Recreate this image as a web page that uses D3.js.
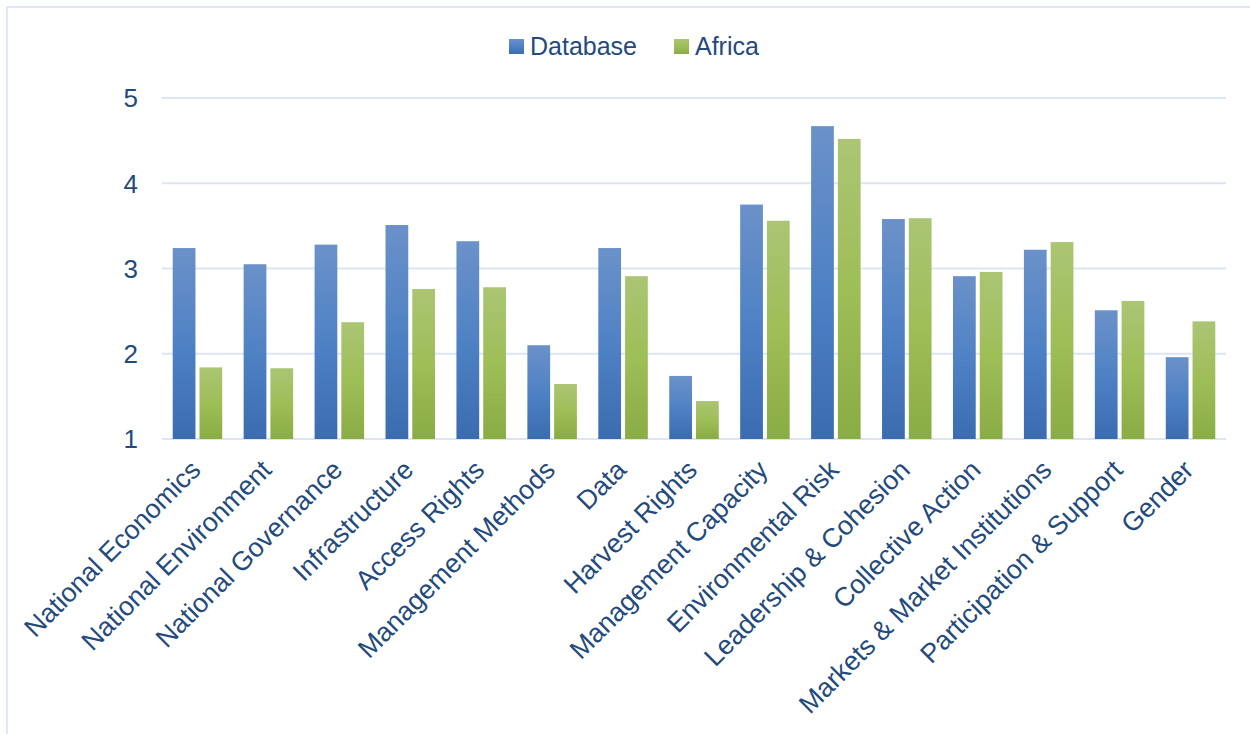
<!DOCTYPE html>
<html>
<head>
<meta charset="utf-8">
<script src="https://cdn.jsdelivr.net/npm/d3@7"></script>
<style>
  html, body { margin: 0; padding: 0; background: #fff; }
  svg { display: block; font-family: "Liberation Sans", Arial, sans-serif; }
</style>
</head>
<body>
<svg id="chart" width="1250" height="734"></svg>
<script>
const categories = [
  "National Economics", "National Environment", "National Governance",
  "Infrastructure", "Access Rights", "Management Methods", "Data",
  "Harvest Rights", "Management Capacity", "Environmental Risk",
  "Leadership & Cohesion", "Collective Action", "Markets & Market Institutions",
  "Participation & Support", "Gender"
];
const seriesNames = ["Database", "Africa"];
const databaseValues = [3.24, 3.05, 3.28, 3.51, 3.32, 2.10, 3.24, 1.74, 3.75, 4.67, 3.58, 2.91, 3.22, 2.51, 1.96];
const africaValues   = [1.84, 1.83, 2.37, 2.76, 2.78, 1.645, 2.91, 1.445, 3.56, 4.52, 3.59, 2.96, 3.31, 2.62, 2.38];
const yTicks = [1, 2, 3, 4, 5];

const svg = d3.select("#chart");
const textColor = "#244a7c";
const gridColor = "#dbe5f3";

// vertical gradients for the two series
const defs = svg.append("defs");
const gradStops = {
  Database: ["#6b91c9", "#4f82c4", "#3a6caf"],
  Africa:   ["#abc574", "#9ebe57", "#8aac45"]
};
seriesNames.forEach(name => {
  const g = defs.append("linearGradient")
    .attr("id", "grad-" + name).attr("x1", 0).attr("y1", 0).attr("x2", 0).attr("y2", 1);
  g.append("stop").attr("offset", "0%").attr("stop-color", gradStops[name][0]);
  g.append("stop").attr("offset", "50%").attr("stop-color", gradStops[name][1]);
  g.append("stop").attr("offset", "100%").attr("stop-color", gradStops[name][2]);
});

// outer chart border (top and left edges)
svg.append("line").attr("x1", 7).attr("x2", 1250).attr("y1", 7).attr("y2", 7)
  .attr("stroke", "#d5e1f1").attr("stroke-width", 1.5);
svg.append("line").attr("x1", 7).attr("x2", 7).attr("y1", 7).attr("y2", 734)
  .attr("stroke", "#d5e1f1").attr("stroke-width", 1.5);

const plot = { left: 162, right: 1226, top: 98, bottom: 439 };

const x0 = d3.scaleBand().domain(categories).range([plot.left, plot.right]).paddingInner(0).paddingOuter(0);
const x1 = d3.scaleBand().domain(seriesNames).range([0, x0.bandwidth()]).paddingInner(0.15).paddingOuter(0.4);
const y = d3.scaleLinear().domain([1, 5]).range([plot.bottom, plot.top]);

// gridlines
svg.append("g").selectAll("line").data(yTicks).join("line")
  .attr("x1", plot.left).attr("x2", plot.right)
  .attr("y1", d => y(d)).attr("y2", d => y(d))
  .attr("stroke", gridColor).attr("stroke-width", 2);

// y tick labels
svg.append("g").selectAll("text").data(yTicks).join("text")
  .attr("x", 138).attr("y", d => y(d)).attr("dy", "0.36em")
  .attr("text-anchor", "end").attr("fill", textColor)
  .attr("font-size", 26).text(d => d);

// bars
const seriesData = { Database: databaseValues, Africa: africaValues };
seriesNames.forEach(name => {
  svg.append("g").selectAll("rect").data(seriesData[name]).join("rect")
    .attr("x", (d, i) => x0(categories[i]) + x1(name))
    .attr("width", x1.bandwidth())
    .attr("y", d => y(d))
    .attr("height", d => y(1) - y(d))
    .attr("fill", "url(#grad-" + name + ")");
});

// category labels, rotated
svg.append("g").selectAll("text").data(categories).join("text")
  .attr("transform", d => `translate(${x0(d) + x0.bandwidth() / 2 - 2},${plot.bottom + 26}) rotate(-45)`)
  .attr("text-anchor", "end").attr("dy", "0.35em")
  .attr("fill", textColor).attr("font-size", 26.7)
  .text(d => d);

// legend
const legend = svg.append("g");
const legendItems = [
  { name: "Database", x: 509 },
  { name: "Africa", x: 674 }
];
legendItems.forEach(item => {
  legend.append("rect").attr("x", item.x).attr("y", 39).attr("width", 15).attr("height", 15)
    .attr("fill", "url(#grad-" + item.name + ")");
  legend.append("text").attr("x", item.x + 21).attr("y", 46).attr("dy", "0.36em")
    .attr("fill", textColor).attr("font-size", 25).text(item.name);
});
</script>
</body>
</html>
